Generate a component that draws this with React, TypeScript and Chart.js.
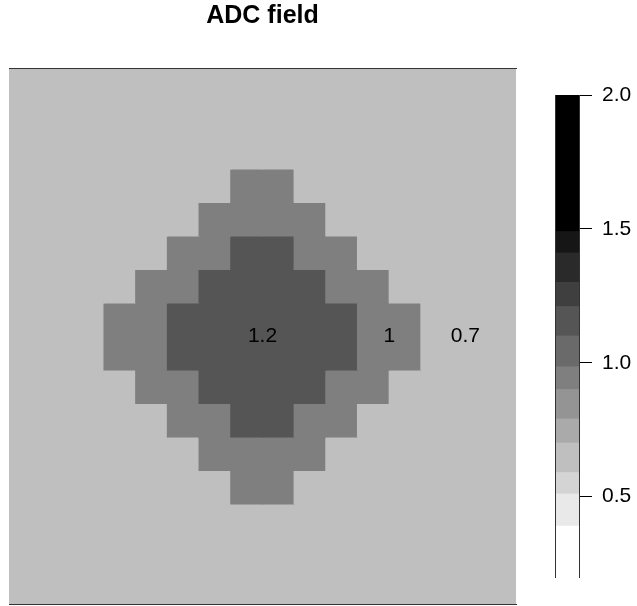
import React, { useEffect, useRef } from "react";
import { Chart, registerables } from "chart.js";

Chart.register(...registerables);

const W = 637;
const H = 606;
const FONT = "'Liberation Sans', Arial, Helvetica, sans-serif";
const TITLE = "ADC field";

// ADC values on the 16 x 16 grid, top row first
const FIELD_ROWS: number[][] = [
  [0.7, 0.7, 0.7, 0.7, 0.7, 0.7, 0.7, 0.7, 0.7, 0.7, 0.7, 0.7, 0.7, 0.7, 0.7, 0.7],
  [0.7, 0.7, 0.7, 0.7, 0.7, 0.7, 0.7, 0.7, 0.7, 0.7, 0.7, 0.7, 0.7, 0.7, 0.7, 0.7],
  [0.7, 0.7, 0.7, 0.7, 0.7, 0.7, 0.7, 0.7, 0.7, 0.7, 0.7, 0.7, 0.7, 0.7, 0.7, 0.7],
  [0.7, 0.7, 0.7, 0.7, 0.7, 0.7, 0.7, 1.0, 1.0, 0.7, 0.7, 0.7, 0.7, 0.7, 0.7, 0.7],
  [0.7, 0.7, 0.7, 0.7, 0.7, 0.7, 1.0, 1.0, 1.0, 1.0, 0.7, 0.7, 0.7, 0.7, 0.7, 0.7],
  [0.7, 0.7, 0.7, 0.7, 0.7, 1.0, 1.0, 1.2, 1.2, 1.0, 1.0, 0.7, 0.7, 0.7, 0.7, 0.7],
  [0.7, 0.7, 0.7, 0.7, 1.0, 1.0, 1.2, 1.2, 1.2, 1.2, 1.0, 1.0, 0.7, 0.7, 0.7, 0.7],
  [0.7, 0.7, 0.7, 1.0, 1.0, 1.2, 1.2, 1.2, 1.2, 1.2, 1.2, 1.0, 1.0, 0.7, 0.7, 0.7],
  [0.7, 0.7, 0.7, 1.0, 1.0, 1.2, 1.2, 1.2, 1.2, 1.2, 1.2, 1.0, 1.0, 0.7, 0.7, 0.7],
  [0.7, 0.7, 0.7, 0.7, 1.0, 1.0, 1.2, 1.2, 1.2, 1.2, 1.0, 1.0, 0.7, 0.7, 0.7, 0.7],
  [0.7, 0.7, 0.7, 0.7, 0.7, 1.0, 1.0, 1.2, 1.2, 1.0, 1.0, 0.7, 0.7, 0.7, 0.7, 0.7],
  [0.7, 0.7, 0.7, 0.7, 0.7, 0.7, 1.0, 1.0, 1.0, 1.0, 0.7, 0.7, 0.7, 0.7, 0.7, 0.7],
  [0.7, 0.7, 0.7, 0.7, 0.7, 0.7, 0.7, 1.0, 1.0, 0.7, 0.7, 0.7, 0.7, 0.7, 0.7, 0.7],
  [0.7, 0.7, 0.7, 0.7, 0.7, 0.7, 0.7, 0.7, 0.7, 0.7, 0.7, 0.7, 0.7, 0.7, 0.7, 0.7],
  [0.7, 0.7, 0.7, 0.7, 0.7, 0.7, 0.7, 0.7, 0.7, 0.7, 0.7, 0.7, 0.7, 0.7, 0.7, 0.7],
  [0.7, 0.7, 0.7, 0.7, 0.7, 0.7, 0.7, 0.7, 0.7, 0.7, 0.7, 0.7, 0.7, 0.7, 0.7, 0.7],
];

// grey used for each ADC level in the field
const FIELD_LEVELS = [0.7, 1.0, 1.2];
const FIELD_COLORS = ["#bfbfbf", "#7f7f7f", "#555555"];

// value labels written inside the field (unit coordinates)
const LABEL_TEXT = ["1.2", "1", "0.7"];
const LABEL_X = [0.5, 0.75, 0.9];
const LABEL_Y = [0.5, 0.5, 0.5];

// colour key: band edges (bottom to top) and their greys
const BAND_BREAKS = [0.2, 0.39, 0.51, 0.59, 0.7, 0.79, 0.9, 0.985, 1.1, 1.21, 1.3, 1.41, 1.49, 2.0];
const BAND_COLORS = [
  "#ffffff", "#e9e9e9", "#d4d4d4", "#bfbfbf", "#aaaaaa", "#949494", "#7f7f7f",
  "#6a6a6a", "#555555", "#3f3f3f", "#2a2a2a", "#161616", "#000000",
];
const KEY_TICKS = [0.5, 1.0, 1.5, 2.0];

const colorFor = (v: number) => {
  const i = FIELD_LEVELS.findIndex((l) => Math.abs(l - v) < 1e-9);
  return FIELD_COLORS[i < 0 ? 0 : i];
};

const cellLabels = {
  id: "cellLabels",
  afterDatasetsDraw(chart: any) {
    const { ctx, scales } = chart;
    ctx.save();
    ctx.font = `21px ${FONT}`;
    ctx.fillStyle = "#000000";
    ctx.textAlign = "center";
    ctx.textBaseline = "middle";
    LABEL_TEXT.forEach((t, i) => {
      ctx.fillText(t, scales.x.getPixelForValue(LABEL_X[i]), scales.y.getPixelForValue(LABEL_Y[i]));
    });
    ctx.restore();
  },
};

export default function App() {
  const mainRef = useRef<HTMLCanvasElement>(null);
  const keyRef = useRef<HTMLCanvasElement>(null);

  useEffect(() => {
    const nRow = FIELD_ROWS.length;
    const nCol = FIELD_ROWS[0].length;

    const fieldSets = FIELD_ROWS.map((row, r) => ({
      data: row.map((_, c) => ({ x: (c + 0.5) / nCol, y: [1 - (r + 1) / nRow, 1 - r / nRow] })),
      backgroundColor: row.map(colorFor),
      borderWidth: 0,
      inflateAmount: 0.6,
      barPercentage: 1,
      categoryPercentage: 1,
      grouped: false,
    }));

    const frame = { display: true, color: "#333333", width: 1, z: 1 };
    const noGrid = { display: false, drawTicks: false, tickLength: 0 };

    const main = new Chart(mainRef.current as HTMLCanvasElement, {
      type: "bar",
      data: { datasets: fieldSets as any },
      plugins: [cellLabels],
      options: {
        responsive: false,
        animation: false,
        devicePixelRatio: 1,
        layout: { padding: { left: 9, right: 121, top: 0, bottom: 1.5 } },
        plugins: {
          legend: { display: false },
          tooltip: { enabled: false },
          title: {
            display: true,
            text: TITLE,
            color: "#000000",
            font: { family: FONT, size: 25, weight: "bold" },
            padding: { top: 1, bottom: 37.5 },
          },
        },
        scales: {
          x: {
            type: "linear",
            min: 0,
            max: 1,
            offset: false,
            position: "bottom",
            ticks: { display: false, stepSize: 0.5 },
            grid: noGrid,
            border: frame,
          },
          xTop: {
            type: "linear",
            min: 0,
            max: 1,
            position: "top",
            ticks: { display: false, stepSize: 0.5 },
            grid: noGrid,
            border: frame,
          },
          y: { type: "linear", min: 0, max: 1, display: false },
        },
      } as any,
    });

    const keySets = BAND_COLORS.map((col, i) => ({
      data: [[BAND_BREAKS[i], BAND_BREAKS[i + 1]]],
      backgroundColor: col,
      borderWidth: 0,
      inflateAmount: 0.4,
      barPercentage: 1,
      categoryPercentage: 1,
      grouped: false,
    }));

    const key = new Chart(keyRef.current as HTMLCanvasElement, {
      type: "bar",
      data: { labels: ["key"], datasets: keySets as any },
      options: {
        responsive: false,
        animation: false,
        devicePixelRatio: 1,
        layout: { padding: { left: 555, right: 0, top: 95, bottom: 29 } },
        plugins: { legend: { display: false }, tooltip: { enabled: false } },
        scales: {
          x: { display: false },
          y: {
            type: "linear",
            position: "right",
            min: BAND_BREAKS[0],
            max: BAND_BREAKS[BAND_BREAKS.length - 1],
            afterBuildTicks: (s: any) => {
              s.ticks = KEY_TICKS.map((v) => ({ value: v }));
            },
            afterFit: (s: any) => {
              s.width = 58;
            },
            ticks: {
              color: "#000000",
              font: { family: FONT, size: 21 },
              padding: 10,
              callback: (v: any) => Number(v).toFixed(1),
            },
            grid: {
              display: true,
              drawOnChartArea: false,
              drawTicks: true,
              tickLength: 13,
              color: "#000000",
              lineWidth: 1,
            },
            border: frame,
          },
          yLeft: {
            type: "linear",
            position: "left",
            ticks: { display: false },
            grid: noGrid,
            border: frame,
          },
        },
      } as any,
    });

    return () => {
      main.destroy();
      key.destroy();
    };
  }, []);

  return (
    <div style={{ position: "fixed", left: 0, top: 0, width: W, height: H, background: "#ffffff" }}>
      <canvas ref={mainRef} width={W} height={H} style={{ position: "absolute", left: 0, top: 0 }} />
      <canvas ref={keyRef} width={W} height={H} style={{ position: "absolute", left: 0, top: 0 }} />
    </div>
  );
}
